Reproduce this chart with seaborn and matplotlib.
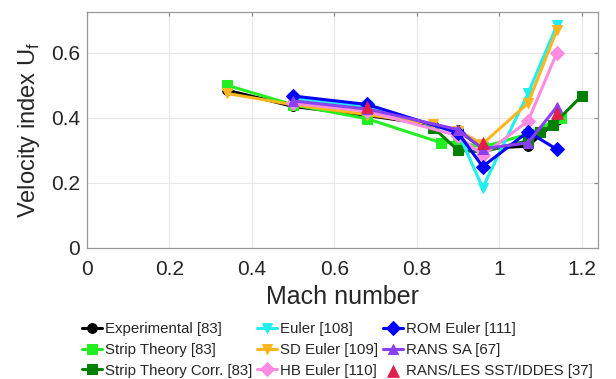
import matplotlib
matplotlib.use("Agg")
import matplotlib.pyplot as plt
import seaborn as sns
import pandas as pd

# data
exp_x = [0.34, 0.5, 0.68, 0.84, 0.9, 0.96, 1.07, 1.14]
exp_y = [0.485, 0.435, 0.407, 0.378, 0.362, 0.305, 0.313, 0.392]
strip_x = [0.34, 0.5, 0.68, 0.86, 0.9, 0.96, 1.07, 1.15]
strip_y = [0.50, 0.44, 0.397, 0.323, 0.325, 0.31, 0.35, 0.40]
corr_x = [0.84, 0.9, 0.96, 1.07, 1.1, 1.13, 1.2]
corr_y = [0.37, 0.30, 0.295, 0.33, 0.355, 0.378, 0.467]
euler_x = [0.5, 0.68, 0.9, 0.96, 1.07, 1.14]
euler_y = [0.46, 0.435, 0.355, 0.185, 0.475, 0.685]
sd_x = [0.34, 0.5, 0.68, 0.84, 0.9, 0.96, 1.07, 1.14]
sd_y = [0.475, 0.44, 0.41, 0.38, 0.36, 0.32, 0.445, 0.67]
hb_x = [0.5, 0.68, 0.9, 0.96, 1.07, 1.14]
hb_y = [0.445, 0.42, 0.345, 0.285, 0.39, 0.60]
rom_x = [0.5, 0.68, 0.9, 0.96, 1.07, 1.14]
rom_y = [0.467, 0.441, 0.354, 0.25, 0.357, 0.303]
sa_x = [0.5, 0.68, 0.9, 0.96, 1.07, 1.14]
sa_y = [0.452, 0.427, 0.364, 0.305, 0.323, 0.434]
les_x = [0.68, 0.96, 1.14]
les_y = [0.432, 0.323, 0.415]

series = [
    ("Experimental [83]", exp_x, exp_y, "black", "o"),
    ("Strip Theory [83]", strip_x, strip_y, "#22ee22", "s"),
    ("Strip Theory Corr. [83]", corr_x, corr_y, "#008000", "s"),
    ("Euler [108]", euler_x, euler_y, "#22eeee", "v"),
    ("SD Euler [109]", sd_x, sd_y, "#ffb51e", "v"),
    ("HB Euler [110]", hb_x, hb_y, "#ff8ce0", "D"),
    ("ROM Euler [111]", rom_x, rom_y, "#0000ff", "D"),
    ("RANS SA [67]", sa_x, sa_y, "#8a3ff0", "^"),
]

sns.set_style("whitegrid")
plt.rcParams['font.family'] = ['Liberation Sans', 'DejaVu Sans']

fig = plt.figure(figsize=(6.16, 3.79), dpi=100)
ax = fig.add_axes([0.141, 0.346, 0.83, 0.622])

for name, xs, ys, col, mk in series:
    df = pd.DataFrame({"x": xs, "y": ys})
    sns.lineplot(data=df, x="x", y="y", ax=ax, color=col, marker=mk, lw=2.2,
                 markersize=7, markeredgecolor=col, label=name, sort=False)

les = pd.DataFrame({"x": les_x, "y": les_y})
sns.scatterplot(data=les, x="x", y="y", ax=ax, color="#e0204a", marker="^",
                s=70, edgecolor="#e0204a", label="RANS/LES SST/IDDES [37]", zorder=5)

ax.set_xlim(0, 1.24)
ax.set_ylim(0, 0.725)
ax.set_xticks([0, 0.2, 0.4, 0.6, 0.8, 1.0, 1.2])
ax.set_xticklabels(["0", "0.2", "0.4", "0.6", "0.8", "1", "1.2"])
ax.set_yticks([0, 0.2, 0.4, 0.6])
ax.set_yticklabels(["0", "0.2", "0.4", "0.6"])
ax.tick_params(labelsize=15, direction="in", length=3, color="#888888",
               labelcolor="#262626", top=True, right=True, pad=5)
ax.tick_params(axis="x", pad=9)
ax.grid(color="#e6e6e6", lw=0.8)
for s in ax.spines.values():
    s.set_color("#999999")
    s.set_linewidth(0.9)

ax.set_xlabel("Mach number", fontsize=18, labelpad=4, color="#262626")
ax.set_ylabel("Velocity index U$_\\mathregular{f}$", fontsize=17, labelpad=6,
              color="#262626")

ax.legend(loc="upper center", bbox_to_anchor=(0.49, -0.29), ncol=3, frameon=False,
          fontsize=10.8, handlelength=1.3, handletextpad=0.2, columnspacing=0.35,
          labelspacing=0.45, borderaxespad=0)

fig.savefig("out.png", dpi=100)
